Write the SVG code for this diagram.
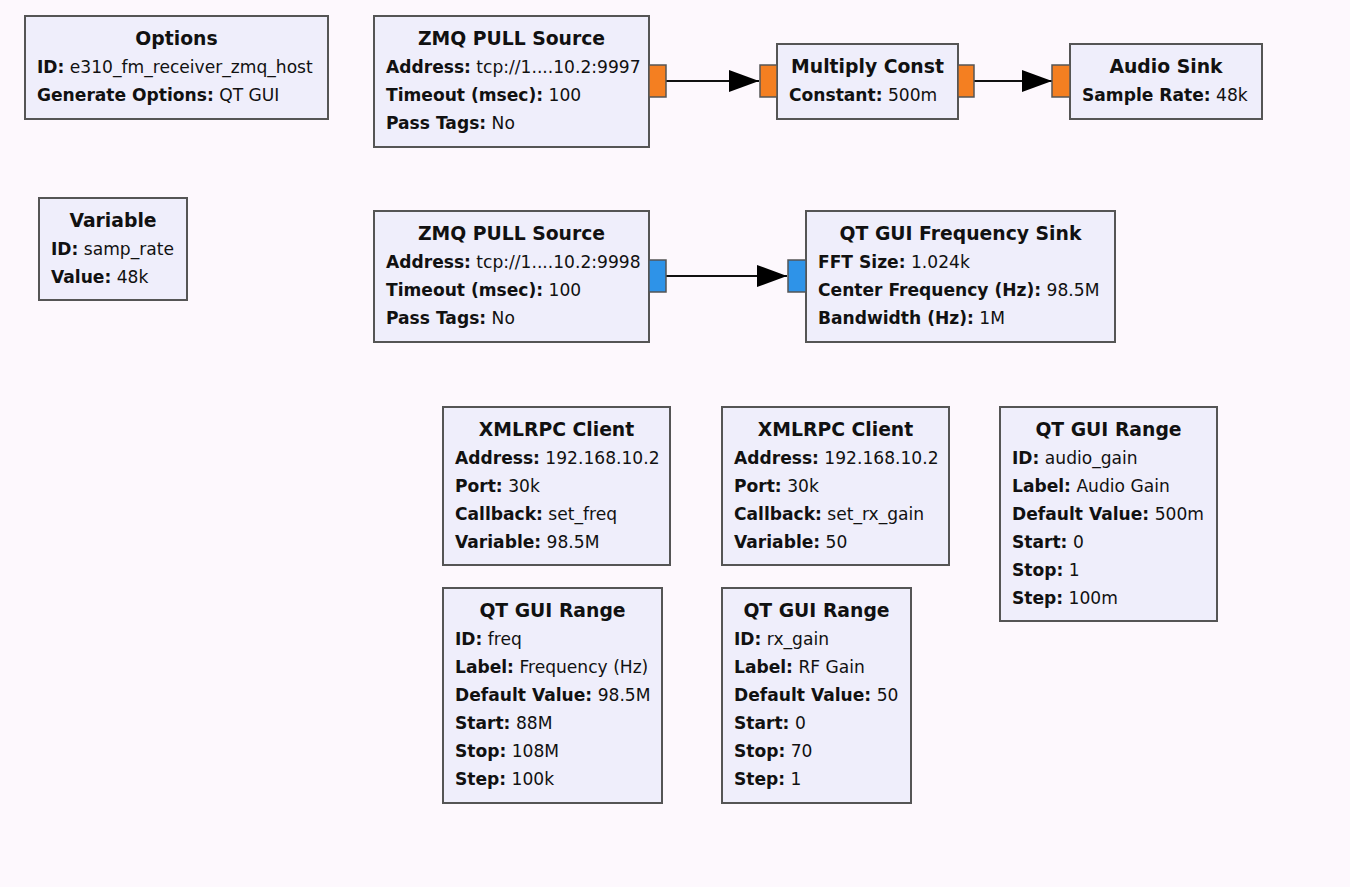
<svg xmlns="http://www.w3.org/2000/svg" width="1350" height="887" viewBox="0 0 1350 887">
<defs>
<style>
.blk{fill:#efeefb;stroke:#555;stroke-width:2}
.po{fill:#f47f21;stroke:#555;stroke-width:1.5}
.pb{fill:#2e93e8;stroke:#555;stroke-width:1.5}
.t{font-family:"DejaVu Sans",sans-serif;font-weight:bold;font-size:18.8px;fill:#111;text-anchor:middle}
.p{font-family:"DejaVu Sans",sans-serif;font-size:17.1px;fill:#111}
.b{font-weight:bold}
.c{stroke:#111;stroke-width:2;fill:none;marker-end:url(#ah)}
</style>
<marker id="ah" markerUnits="userSpaceOnUse" markerWidth="30" markerHeight="22" refX="30" refY="11" orient="auto">
<path d="M0,0 L30,11 L0,22 z" fill="#000"/>
</marker>
</defs>
<rect width="1350" height="887" fill="#fdf8fd"/>
<g id="connectors">
<line class="c" x1="666" y1="81" x2="759" y2="81"/>
<line class="c" x1="974" y1="81" x2="1052" y2="81"/>
<line class="c" x1="666" y1="276" x2="787" y2="276"/>
</g>
<g id="options">
<rect class="blk" x="25" y="16" width="303" height="103"/>
<text class="t" x="176.5" y="45">Options</text>
<text class="p" x="37" y="73"><tspan class="b">ID:</tspan> e310_fm_receiver_zmq_host</text>
<text class="p" x="37" y="101"><tspan class="b">Generate Options:</tspan> QT GUI</text>
</g>
<g id="variable">
<rect class="blk" x="39" y="198" width="148" height="102"/>
<text class="t" x="113" y="227">Variable</text>
<text class="p" x="51" y="255"><tspan class="b">ID:</tspan> samp_rate</text>
<text class="p" x="51" y="283"><tspan class="b">Value:</tspan> 48k</text>
</g>
<g id="zmq_pull_source_0">
<rect class="blk" x="374" y="16" width="275" height="131"/>
<rect class="po" x="649" y="65" width="17" height="32"/>
<text class="t" x="511.5" y="45">ZMQ PULL Source</text>
<text class="p" x="386" y="73"><tspan class="b">Address:</tspan> tcp://1....10.2:9997</text>
<text class="p" x="386" y="101"><tspan class="b">Timeout (msec):</tspan> 100</text>
<text class="p" x="386" y="129"><tspan class="b">Pass Tags:</tspan> No</text>
</g>
<g id="multiply_const">
<rect class="blk" x="777" y="44" width="181" height="75"/>
<rect class="po" x="760" y="65" width="17" height="32"/>
<rect class="po" x="958" y="65" width="16" height="32"/>
<text class="t" x="867.5" y="73">Multiply Const</text>
<text class="p" x="789" y="101"><tspan class="b">Constant:</tspan> 500m</text>
</g>
<g id="audio_sink">
<rect class="blk" x="1070" y="44" width="192" height="75"/>
<rect class="po" x="1052" y="65" width="18" height="32"/>
<text class="t" x="1166" y="73">Audio Sink</text>
<text class="p" x="1082" y="101"><tspan class="b">Sample Rate:</tspan> 48k</text>
</g>
<g id="zmq_pull_source_1">
<rect class="blk" x="374" y="211" width="275" height="131"/>
<rect class="pb" x="649" y="260" width="17" height="32"/>
<text class="t" x="511.5" y="240">ZMQ PULL Source</text>
<text class="p" x="386" y="268"><tspan class="b">Address:</tspan> tcp://1....10.2:9998</text>
<text class="p" x="386" y="296"><tspan class="b">Timeout (msec):</tspan> 100</text>
<text class="p" x="386" y="324"><tspan class="b">Pass Tags:</tspan> No</text>
</g>
<g id="qt_gui_freq_sink">
<rect class="blk" x="806" y="211" width="309" height="131"/>
<rect class="pb" x="788" y="260" width="18" height="32"/>
<text class="t" x="960.5" y="240">QT GUI Frequency Sink</text>
<text class="p" x="818" y="268"><tspan class="b">FFT Size:</tspan> 1.024k</text>
<text class="p" x="818" y="296"><tspan class="b">Center Frequency (Hz):</tspan> 98.5M</text>
<text class="p" x="818" y="324"><tspan class="b">Bandwidth (Hz):</tspan> 1M</text>
</g>
<g id="xmlrpc_client_0">
<rect class="blk" x="443" y="407" width="227" height="158"/>
<text class="t" x="556.5" y="436">XMLRPC Client</text>
<text class="p" x="455" y="464"><tspan class="b">Address:</tspan> 192.168.10.2</text>
<text class="p" x="455" y="492"><tspan class="b">Port:</tspan> 30k</text>
<text class="p" x="455" y="520"><tspan class="b">Callback:</tspan> set_freq</text>
<text class="p" x="455" y="548"><tspan class="b">Variable:</tspan> 98.5M</text>
</g>
<g id="xmlrpc_client_1">
<rect class="blk" x="722" y="407" width="227" height="158"/>
<text class="t" x="835.5" y="436">XMLRPC Client</text>
<text class="p" x="734" y="464"><tspan class="b">Address:</tspan> 192.168.10.2</text>
<text class="p" x="734" y="492"><tspan class="b">Port:</tspan> 30k</text>
<text class="p" x="734" y="520"><tspan class="b">Callback:</tspan> set_rx_gain</text>
<text class="p" x="734" y="548"><tspan class="b">Variable:</tspan> 50</text>
</g>
<g id="qt_gui_range_freq">
<rect class="blk" x="443" y="588" width="219" height="215"/>
<text class="t" x="552.5" y="617">QT GUI Range</text>
<text class="p" x="455" y="645"><tspan class="b">ID:</tspan> freq</text>
<text class="p" x="455" y="673"><tspan class="b">Label:</tspan> Frequency (Hz)</text>
<text class="p" x="455" y="701"><tspan class="b">Default Value:</tspan> 98.5M</text>
<text class="p" x="455" y="729"><tspan class="b">Start:</tspan> 88M</text>
<text class="p" x="455" y="757"><tspan class="b">Stop:</tspan> 108M</text>
<text class="p" x="455" y="785"><tspan class="b">Step:</tspan> 100k</text>
</g>
<g id="qt_gui_range_rx_gain">
<rect class="blk" x="722" y="588" width="189" height="215"/>
<text class="t" x="816.5" y="617">QT GUI Range</text>
<text class="p" x="734" y="645"><tspan class="b">ID:</tspan> rx_gain</text>
<text class="p" x="734" y="673"><tspan class="b">Label:</tspan> RF Gain</text>
<text class="p" x="734" y="701"><tspan class="b">Default Value:</tspan> 50</text>
<text class="p" x="734" y="729"><tspan class="b">Start:</tspan> 0</text>
<text class="p" x="734" y="757"><tspan class="b">Stop:</tspan> 70</text>
<text class="p" x="734" y="785"><tspan class="b">Step:</tspan> 1</text>
</g>
<g id="qt_gui_range_audio_gain">
<rect class="blk" x="1000" y="407" width="217" height="214"/>
<text class="t" x="1108.5" y="436">QT GUI Range</text>
<text class="p" x="1012" y="464"><tspan class="b">ID:</tspan> audio_gain</text>
<text class="p" x="1012" y="492"><tspan class="b">Label:</tspan> Audio Gain</text>
<text class="p" x="1012" y="520"><tspan class="b">Default Value:</tspan> 500m</text>
<text class="p" x="1012" y="548"><tspan class="b">Start:</tspan> 0</text>
<text class="p" x="1012" y="576"><tspan class="b">Stop:</tspan> 1</text>
<text class="p" x="1012" y="604"><tspan class="b">Step:</tspan> 100m</text>
</g>
</svg>
